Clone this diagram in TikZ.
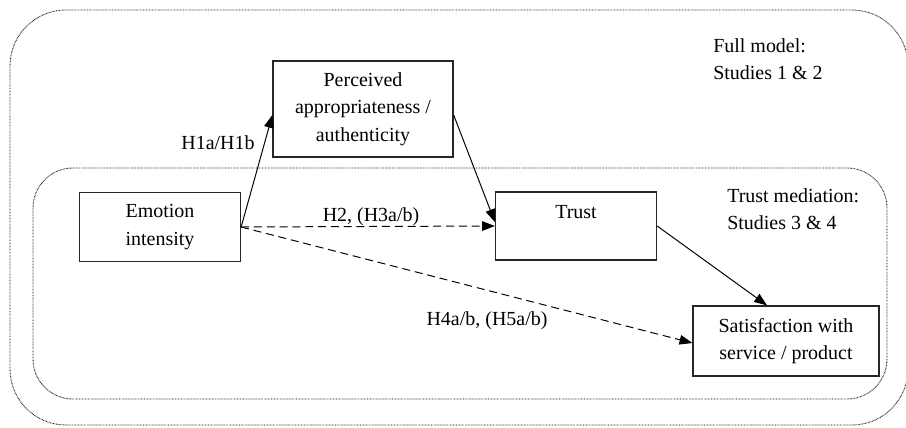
\documentclass[tikz,border=0pt]{standalone}
\usepackage{fontspec}
\setmainfont{Liberation Serif}
\usetikzlibrary{arrows.meta}
\tikzset{
	box/.style={draw=black!85, line width=0.9pt, align=center, inner sep=0pt},
	lbl/.style={inner sep=0pt, align=left},
	link/.style={line width=0.7pt, -{Triangle[length=0.32cm, width=0.24cm]}},
	hyp/.style={link, dash pattern=on 0.2cm off 0.12cm},
	group/.style={black!90, line width=0.65pt, dash pattern=on 0.5pt off 0.55pt},
}

\begin{document}
\begin{tikzpicture}[x=0.025cm, y=-0.025cm, font=\fontsize{14.2}{19.5}\selectfont]
	%%%%% START %%%%%
	\path[fill=white, use as bounding box] (0,0) rectangle (906,427);

	% study groups
	\draw[group, rounded corners=1.4cm] (10,10) rectangle (908,425);
	\draw[group, rounded corners=1cm] (33,168) rectangle (887,399);

	% constructs
	\node[box, minimum width=4.5cm, minimum height=2.4cm] (perc) at (363,109) {Perceived\\appropriateness /\\authenticity};
	\node[box, minimum width=4.025cm, minimum height=1.725cm] (emo) at (160,227) {Emotion\\intensity};
	\node[box, minimum width=4.025cm, minimum height=1.7cm] (trust) at (576,226) {Trust\\\mbox{}};
	\node[box, minimum width=4.65cm, minimum height=1.75cm] (sat) at (786,341) {Satisfaction with\\service / product};

	% paths
	\draw[link] (emo.east) -- ([yshift=-0.15cm]perc.west);
	\draw[link] ([yshift=-0.15cm]perc.east) -- ([yshift=0.1cm]trust.west);
	\draw[link] (trust.east) -- ([xshift=-0.475cm]sat.north);
	\draw[hyp] (emo.east) -- (trust.west);
	\draw[hyp] (emo.east) -- ([yshift=-0.05cm]sat.west);

	% labels
	\node[lbl] (h1) at (218,143) {H1a/H1b};
	\node[lbl] (h2) at (371,217) {H2, (H3a/b)};
	\node[lbl] (h4) at (487,321) {H4a/b, (H5a/b)};
	\node[lbl, anchor=west] (full) at (713,59) {Full model:\\Studies 1 \& 2};
	\node[lbl, anchor=west] (trmed) at (727,209) {Trust mediation:\\Studies 3 \& 4};

	%%%%% END %%%%%
\end{tikzpicture}
\end{document}
